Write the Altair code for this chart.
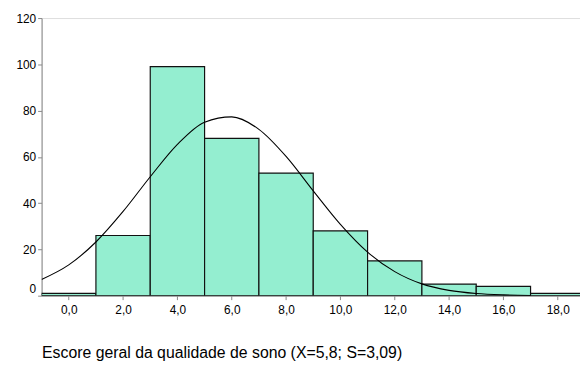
import altair as alt
import pandas as pd

# Histogram bins (centre of each class, width 2) and frequencies
bin_centers = [0, 2, 4, 6, 8, 10, 12, 14, 16, 18]
counts = [1, 26, 99, 68, 53, 28, 15, 5, 4, 1]

# Fitted normal curve
curve_x = [-1, 0, 1, 2, 3, 4, 5, 6, 7, 8, 9, 10, 11, 12, 13, 14, 15, 16, 17]
curve_y = [7, 13.3, 23.2, 36.4, 51.4, 65.4, 75, 77.3, 71.9, 60.2, 45.3, 30.8,
           18.8, 10.4, 5.1, 2.3, 0.95, 0.35, 0.1]

x_ticks = [0, 2, 4, 6, 8, 10, 12, 14, 16, 18]
y_ticks = [0, 20, 40, 60, 80, 100, 120]
x_title = "Escore geral da qualidade de sono (X=5,8; S=3,09)"

bars_df = pd.DataFrame({"center": bin_centers, "count": counts})
curve_df = pd.DataFrame({"x": curve_x, "y": curve_y})

x_scale = alt.Scale(domain=[-1, 18.82], nice=False, zero=False)
y_scale = alt.Scale(domain=[0, 120], nice=False)

x_axis = alt.Axis(
    values=x_ticks,
    labelExpr="replace(format(datum.value, '.1f'), '.', ',')",
    title=x_title,
    titleAnchor="start",
    titleAlign="left",
    titleBaseline="middle",
    titleX=0,
    titleY=58,
    titleFontSize=16,
    titleFontWeight="normal",
    labelFontSize=12,
    labelPadding=5,
    tickSize=4,
    grid=False,
)
y_axis = alt.Axis(
    values=y_ticks,
    title=None,
    labelFontSize=12,
    labelPadding=2,
    tickSize=4,
    grid=False,
    labelOffset={"condition": {"test": "datum.value == 0", "value": -7}, "value": 0},
)

bars = alt.Chart(bars_df).transform_calculate(
    x0="datum.center - 1", x1="datum.center + 1"
).mark_bar(
    fill="#94EED0", stroke="#111111", strokeWidth=1.2, clip=True
).encode(
    x=alt.X("x0:Q", scale=x_scale, axis=x_axis),
    x2="x1:Q",
    y=alt.Y("count:Q", scale=y_scale, axis=y_axis),
    y2=alt.datum(0),
)

curve = alt.Chart(curve_df).mark_line(
    color="black", strokeWidth=1.1, interpolate="monotone", clip=True
).encode(
    x=alt.X("x:Q", scale=x_scale),
    y=alt.Y("y:Q", scale=y_scale),
)

chart = alt.layer(bars, curve).properties(
    width=545,
    height=281,
    padding={"left": 34, "top": 8, "right": 0, "bottom": 68},
    autosize=alt.AutoSizeParams(type="none"),
).configure_view(
    stroke=None
).configure_axis(
    labelFont="Liberation Sans",
    titleFont="Liberation Sans",
    labelColor="#111111",
    titleColor="#111111",
    domainColor="#111111",
    tickColor="#111111",
).configure(background="white")

chart.save("out.html", embed_options={"renderer": "svg", "actions": False})
